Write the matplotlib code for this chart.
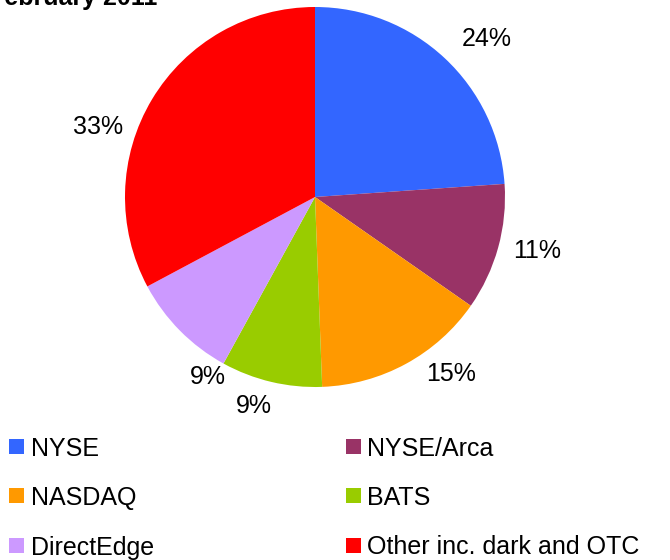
import matplotlib
matplotlib.use("Agg")
import matplotlib.pyplot as plt
from matplotlib.patches import Rectangle

plt.rcParams['font.family'] = ['Liberation Sans', 'DejaVu Sans']

venues = ["NYSE", "NYSE/Arca", "NASDAQ", "BATS", "DirectEdge", "Other inc. dark and OTC"]
shares = [23.9, 10.8, 14.7, 8.6, 9.2, 32.8]
colors = ["#3366FF", "#993366", "#FF9900", "#99CC00", "#CC99FF", "#FF0000"]
title_text = "February 2011"

W, H = 670, 560
fig = plt.figure(figsize=(W / 100, H / 100), dpi=100)

# pie axes: centre (315,197) px, radius 190 px
cx, cy, r = 315, 197, 190
ax = fig.add_axes([(cx - r) / W, (H - cy - r) / H, 2 * r / W, 2 * r / H])
wedges, texts, autotexts = ax.pie(
    shares, colors=colors, startangle=90, counterclock=False,
    radius=1.0, autopct='%.0f%%', pctdistance=1.19,
    wedgeprops=dict(linewidth=0), textprops=dict(fontsize=18, color='black'))
ax.set_xlim(-1, 1)
ax.set_ylim(-1, 1)
ax.set_aspect('auto')
ax.axis('off')

# label placement (in pie-radius units), matching the reference's layout
label_pos = [(0.905, 0.847), (1.168, -0.273), (0.716, -0.921),
             (-0.321, -1.089), (-0.563, -0.932), (-1.142, 0.379)]
for t, p in zip(autotexts, label_pos):
    t.set_clip_on(False)
    t.set_position(p)
    t.set_va('center_baseline')

# clipped title at the top
fig.text(157 / W, 1 - 5 / H, title_text, ha='right', va='baseline',
         fontsize=18, fontweight='bold')

# legend: two columns, three rows
col_marker_x = [9, 346]
col_text_x = [31, 367]
row_y = [446.5, 495.5, 545]
sq = 15
for i, (lab, col) in enumerate(zip(venues, colors)):
    c, rr = i % 2, i // 2
    x0 = col_marker_x[c]
    y0 = row_y[rr]
    fig.add_artist(Rectangle((x0 / W, (H - y0 - sq / 2) / H), sq / W, sq / H,
                             transform=fig.transFigure, facecolor=col,
                             edgecolor='none'))
    fig.text(col_text_x[c] / W, (H - y0) / H, lab, ha='left', va='center_baseline',
             fontsize=18)

fig.savefig("out.png", dpi=100)
